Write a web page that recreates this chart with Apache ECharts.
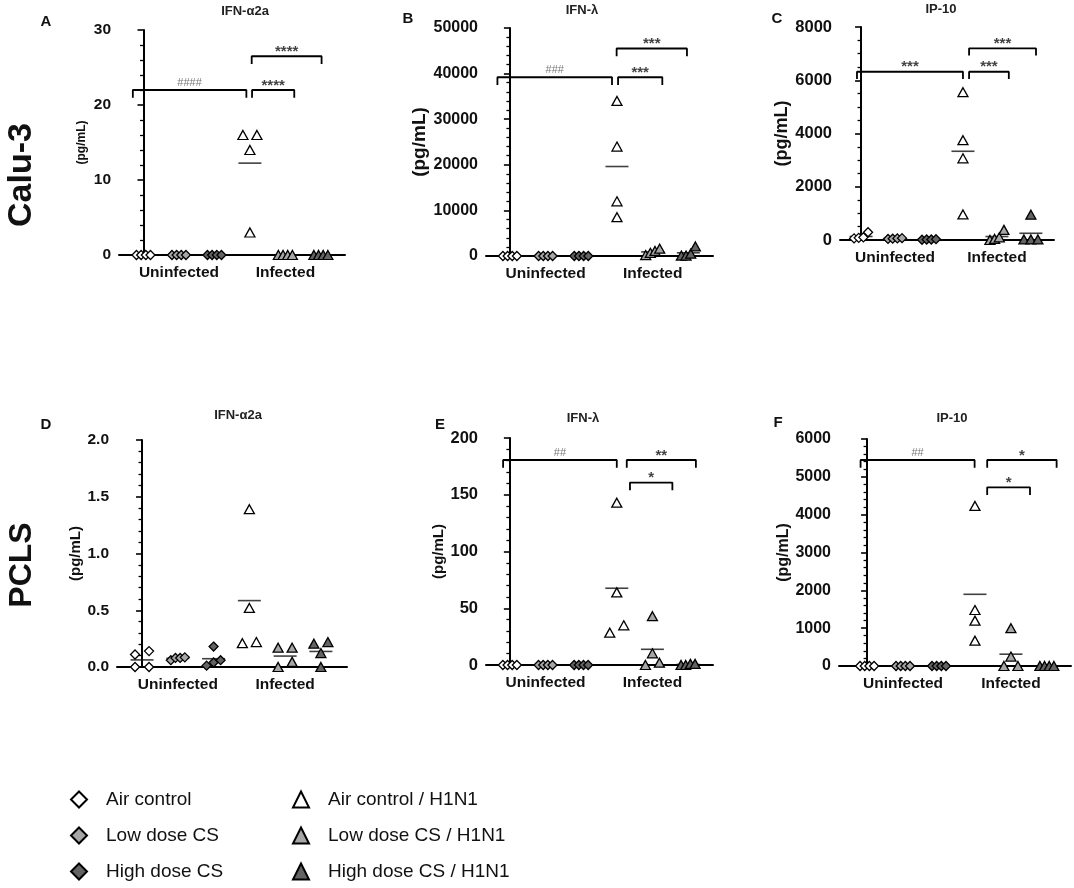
<!DOCTYPE html>
<html>
<head>
<meta charset="utf-8">
<title>Calu-3 / PCLS cytokines</title>
<script src="https://cdn.jsdelivr.net/npm/echarts@6/dist/echarts.min.js"></script>
<style>
  html, body { margin: 0; padding: 0; background: #fff; }
  #main { width: 1074px; height: 888px; }
</style>
</head>
<body>
<div id="main"></div>
<script>
// groups, same order in every panel
var groupNames = ['Air control', 'Low dose CS', 'High dose CS',
                  'Air control / H1N1', 'Low dose CS / H1N1', 'High dose CS / H1N1'];
var xTickLabels = ['Uninfected', 'Infected'];
var xTickAt = [1, 4];   // centre group of each half

// pg/mL, 4 replicates per group
var caluIfna = [[0,0,0,0],[0,0,0,0],[0,0,0,0],[16,16,14,3],[0,0,0,0],[0,0,0,0]];
var caluIfnl = [[0,0,0,0],[0,0,0,0],[0,0,0,0],[34000,24000,12000,8500],[200,1600,700,1100],[100,100,500,2100]];
var caluIp10 = [[60,290,100,80],[40,70,50,60],[20,30,10,20],[5550,3750,3070,960],[0,100,380,40],[20,950,20,20]];
var pclsIfna = [[0.11,0.14,0,0],[0.06,0.085,0.08,0.08],[0.012,0.18,0.06,0.04],[1.39,0.52,0.21,0.22],[0.17,0.17,0,0.045],[0.205,0.22,0.123,0]];
var pclsIfnl = [[0,0,0,0],[0,0,0,0],[0,0,0,0],[143,64,35,28.5],[43,10.3,0,2],[0,1,1,0]];
var pclsIp10 = [[0,0,0,0],[0,0,0,0],[0,0,0,0],[4230,1480,1200,670],[1000,250,0,0],[0,0,0,0]];

// y axes
var yMax   = [30, 50000, 8000, 2, 200, 6000];
var yStep  = [10, 10000, 2000, 0.5, 50, 1000];
var yMinor = [5, 5, 4, 5, 5, 5];
var yDecimals = [0, 0, 0, 1, 0, 0];
var yName  = '(pg/mL)';

// significance brackets: [from group, to group, height, text]
var brA = [[-0.3, 2.9, 22, '####'], [3.06, 4.25, 22, '****'], [3.05, 5.02, 26.5, '****']];
var brB = [[-0.35, 2.86, 39200, '###'], [3.03, 4.27, 39200, '***'], [2.99, 4.96, 45500, '***']];
var brC = [[-0.12, 3.0, 6320, '***'], [3.18, 4.35, 6320, '***'], [3.18, 5.15, 7200, '***']];
var brD = [];
var brE = [[-0.19, 3.0, 180.6, '##'], [3.28, 5.22, 180.6, '**'], [3.37, 4.56, 160.7, '*']];
var brF = [[-0.18, 2.99, 5445, '##'], [3.34, 5.27, 5445, '*'], [3.34, 4.53, 4722, '*']];

var panelLetters = ['A', 'B', 'C', 'D', 'E', 'F'];
var panelTitles = ['IFN-\u03b12a', 'IFN-\u03bb', 'IP-10', 'IFN-\u03b12a', 'IFN-\u03bb', 'IP-10'];
var rowLabels = ['Calu-3', 'PCLS'];

// ---- layout -------------------------------------------------------------
var FONT = "'Liberation Sans', Arial, Helvetica, sans-serif";
var panelData = [caluIfna, caluIfnl, caluIp10, pclsIfna, pclsIfnl, pclsIp10];
var panelBr = [brA, brB, brC, brD, brE, brF];
// grid rect [left, top, width, height]
var rects = [[119, 30, 226, 225], [486, 28, 227, 228], [840, 27, 214, 213],
             [117, 440, 230, 227], [486, 438, 227, 227], [839, 439, 232, 227]];
var xMin = [-0.69, -0.67, -0.62, -0.7, -0.67, -0.78];
var xMax = [5.68, 5.69, 5.68, 5.73, 5.7, 5.67];
var tickFont = [15.5, 16, 16.5, 15.5, 16.5, 16];
var nameFont = [12, 19, 18, 15, 15, 16];
var nameGap = [31, 54, 40, 32, 38, 40];
var letterPos = [[46, 22], [408, 19], [777, 19], [46, 425], [440, 425], [778, 423]];
var titlePos = [[245, 11], [582, 10], [941, 9], [238, 415], [583, 418], [952, 418]];

var fills = ['#ffffff', '#a6a6a6', '#636363', '#ffffff', '#a6a6a6', '#636363'];
var SPREAD = 14;     // px a cluster of overlapping points is spread over
var OVERLAP = 9;     // px closer than this counts as overlapping

function jitter(vals, g, p) {
  var r = rects[p];
  var pxY = r[3] / yMax[p];
  var unitX = (xMax[p] - xMin[p]) / r[2];
  var idx = vals.map(function (v, i) { return i; })
               .sort(function (a, b) { return vals[a] - vals[b]; });
  var clusters = [], cur = [idx[0]];
  for (var k = 1; k < idx.length; k++) {
    if ((vals[idx[k]] - vals[idx[k - 1]]) * pxY < OVERLAP) cur.push(idx[k]);
    else { clusters.push(cur); cur = [idx[k]]; }
  }
  clusters.push(cur);
  var pts = [];
  clusters.forEach(function (c) {
    var n = c.length;
    c.forEach(function (i, j) {
      var off = n > 1 ? (j / (n - 1) - 0.5) * SPREAD : 0;
      pts.push([g + off * unitX, vals[i]]);
    });
  });
  return pts;
}

var grids = [], xAxes = [], yAxes = [], series = [], graphics = [];

panelData.forEach(function (groups, p) {
  var r = rects[p];
  grids.push({ left: r[0], top: r[1], width: r[2], height: r[3], containLabel: false });
  xAxes.push({
    gridIndex: p, type: 'value', min: xMin[p], max: xMax[p],
    axisLine: { onZero: false, lineStyle: { color: '#000', width: 2 } },
    axisTick: { show: false },
    splitLine: { show: false },
    axisLabel: {
      customValues: xTickAt, margin: 10,
      formatter: function (v) { var i = xTickAt.indexOf(v); return i < 0 ? '' : xTickLabels[i]; },
      color: '#111', fontSize: 15.5, fontWeight: 'bold', fontFamily: FONT
    }
  });
  yAxes.push({
    gridIndex: p, type: 'value', min: 0, max: yMax[p], interval: yStep[p],
    name: yName, nameLocation: 'middle', nameRotate: 90, nameGap: nameGap[p],
    nameTextStyle: { fontSize: nameFont[p], fontWeight: 'bold', color: '#111', fontFamily: FONT },
    axisLine: { show: true, lineStyle: { color: '#000', width: 2 } },
    axisTick: { show: true, length: 6, lineStyle: { color: '#000', width: 1.6 } },
    minorTick: { show: true, splitNumber: yMinor[p], length: 3.5, lineStyle: { color: '#000', width: 1.3 } },
    splitLine: { show: false },
    axisLabel: {
      margin: 8, color: '#111', fontSize: tickFont[p], fontWeight: 'bold', fontFamily: FONT,
      formatter: function (v) { return v.toFixed(yDecimals[p]); }
    }
  });

  // mean lines
  series.push({
    type: 'scatter', xAxisIndex: p, yAxisIndex: p, z: 2, clip: false, silent: true,
    symbol: 'rect', symbolSize: [23, 1.6],
    itemStyle: { color: '#111' },
    data: groups.map(function (vals, g) {
      return [g, vals.reduce(function (s, v) { return s + v; }, 0) / vals.length];
    })
  });

  // points
  groups.forEach(function (vals, g) {
    series.push({
      name: groupNames[g], type: 'scatter', xAxisIndex: p, yAxisIndex: p, z: 3, clip: false,
      symbol: g < 3 ? 'diamond' : 'triangle',
      symbolSize: g < 3 ? [9, 9] : [10, 9],
      itemStyle: { color: fills[g], borderColor: '#000', borderWidth: 1.3, opacity: 1 },
      data: jitter(vals, g, p)
    });
  });

  // brackets
  var leg = 0.034 * yMax[p];
  panelBr[p].forEach(function (b) {
    series.push({
      type: 'line', xAxisIndex: p, yAxisIndex: p, z: 4, silent: true, clip: false,
      symbol: 'none', lineStyle: { color: '#000', width: 1.8 },
      data: [[b[0], b[2] - leg], [b[0], b[2]], [b[1], b[2]], [b[1], b[2] - leg]]
    });
  });
  if (panelBr[p].length) {
    series.push({
      type: 'scatter', xAxisIndex: p, yAxisIndex: p, z: 5, silent: true, clip: false,
      symbolSize: 0,
      data: panelBr[p].map(function (b) {
        var hash = b[3].charAt(0) === '#';
        return {
          value: [(b[0] + b[1]) / 2, b[2]],
          label: {
            show: true, position: 'top', distance: 2, formatter: b[3],
            offset: hash ? [0, 0] : [0, 5],
            color: hash ? '#555' : '#111',
            fontSize: hash ? 11 : 15, fontWeight: hash ? 'normal' : 'bold', fontFamily: FONT
          }
        };
      })
    });
  }

  graphics.push({
    type: 'text', x: letterPos[p][0], y: letterPos[p][1],
    style: { text: panelLetters[p], align: 'center', verticalAlign: 'middle',
             font: 'bold 15px ' + FONT, fill: '#111' }
  });
  graphics.push({
    type: 'text', x: titlePos[p][0], y: titlePos[p][1],
    style: { text: panelTitles[p], align: 'center', verticalAlign: 'middle',
             font: 'bold 13px ' + FONT, fill: '#222' }
  });
});

graphics.push({
  type: 'text', x: 22, y: 175, rotation: Math.PI / 2,
  style: { text: rowLabels[0], align: 'center', verticalAlign: 'middle', font: 'bold 34px ' + FONT, fill: '#111' }
});
graphics.push({
  type: 'text', x: 22, y: 565, rotation: Math.PI / 2,
  style: { text: rowLabels[1], align: 'center', verticalAlign: 'middle', font: 'bold 32px ' + FONT, fill: '#111' }
});

function legendAt(left, names) {
  return {
    data: names, left: left, top: 790, orient: 'vertical', padding: 0,
    itemWidth: 16, itemHeight: 16, itemGap: 17, selectedMode: false,
    textStyle: { fontSize: 19, color: '#111', fontFamily: FONT, padding: [0, 0, 0, 14] }
  };
}

var chart = echarts.init(document.getElementById('main'));
chart.setOption({
  animation: false,
  backgroundColor: '#fff',
  grid: grids,
  xAxis: xAxes,
  yAxis: yAxes,
  legend: [legendAt(70, groupNames.slice(0, 3)), legendAt(292, groupNames.slice(3))],
  graphic: graphics,
  series: series
});
</script>
</body>
</html>
